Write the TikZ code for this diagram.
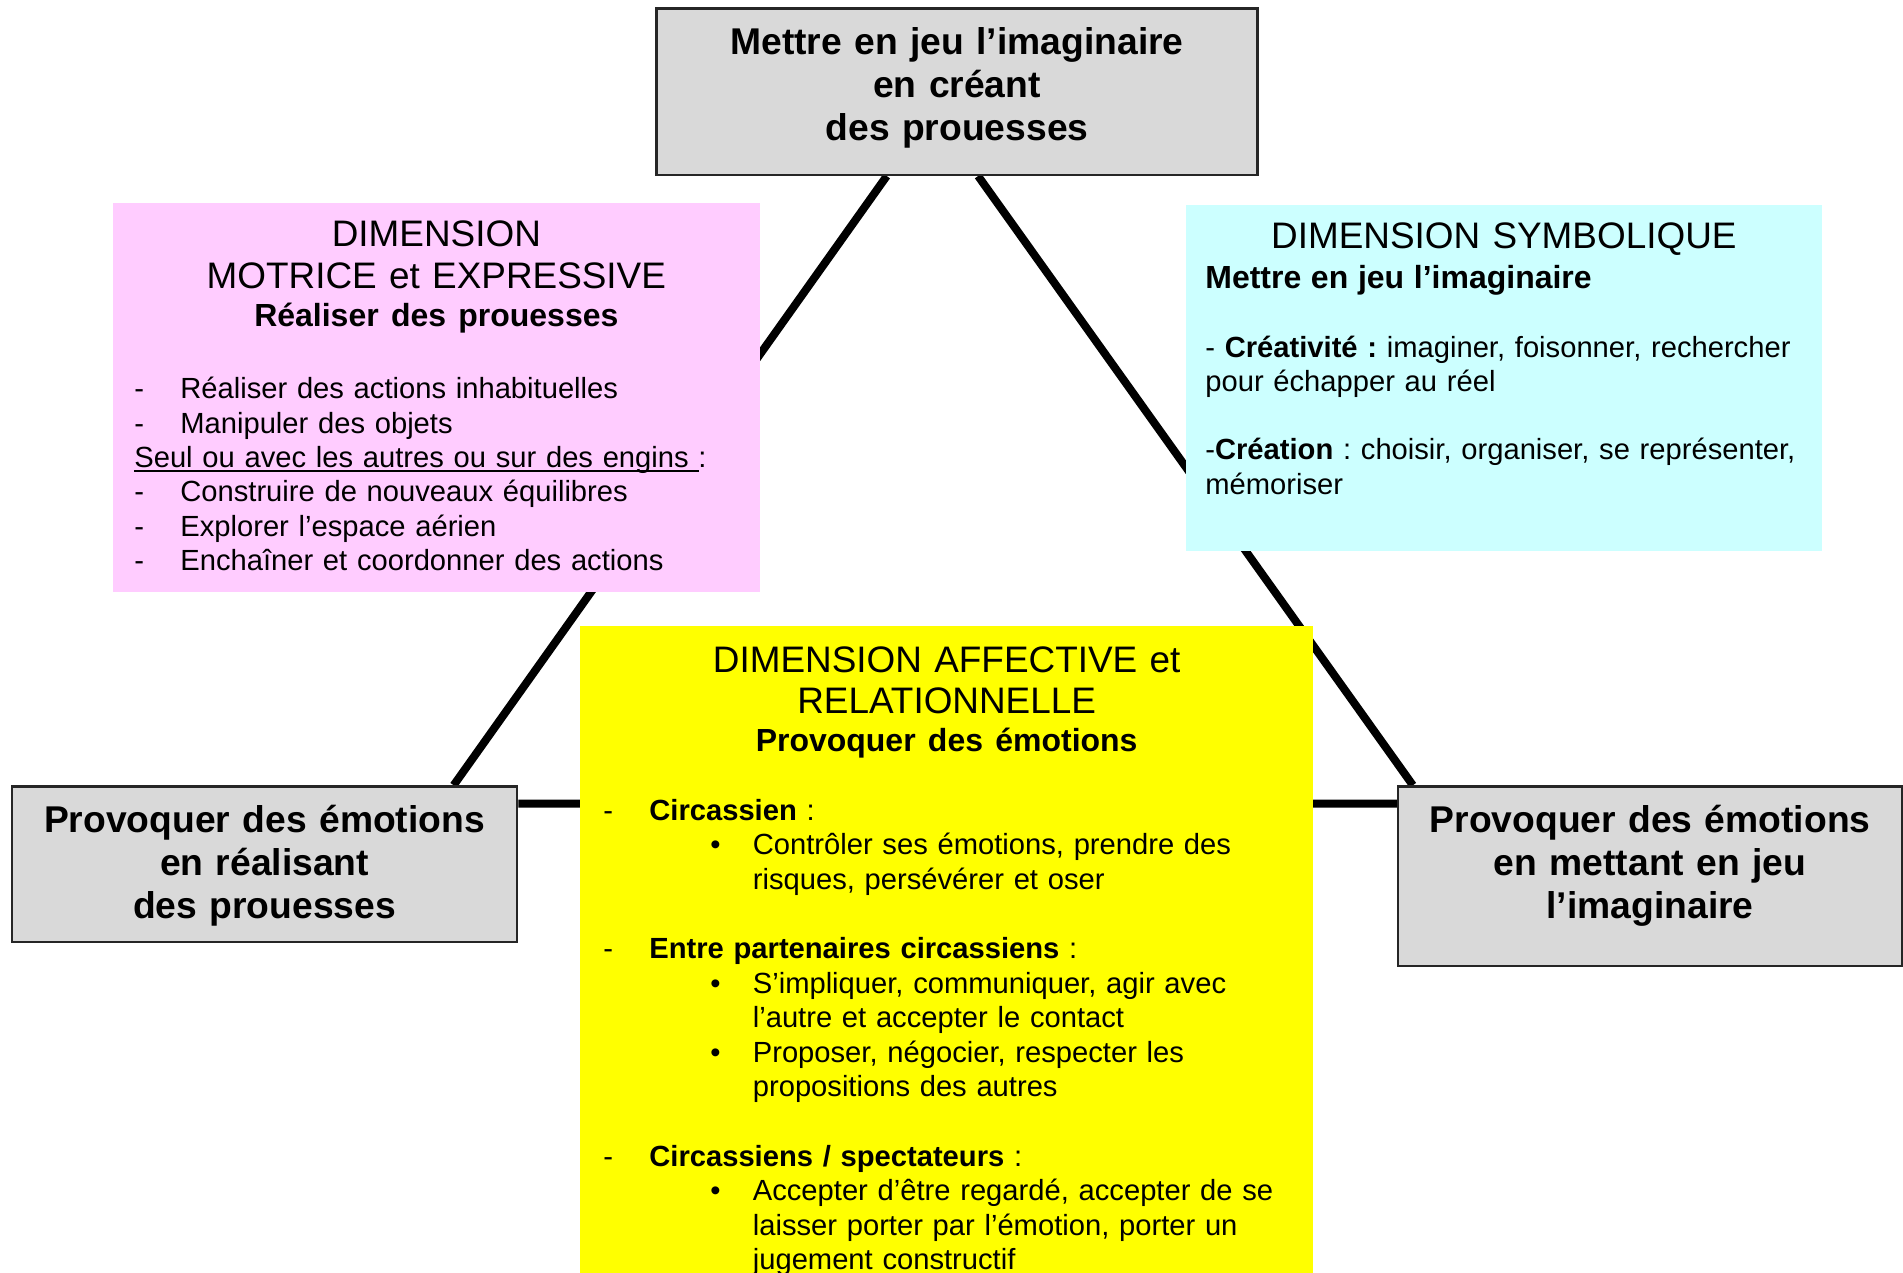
\documentclass[tikz,border=0pt]{standalone}
\usepackage{fontspec}
\setmainfont{Liberation Sans}
\usetikzlibrary{calc}
\pgfdeclarelayer{background}
\pgfsetlayers{background,main}
\frenchspacing
\newlength{\px}
\setlength{\px}{0.02cm}
\newlength{\ulinewidth}
\definecolor{goal_gray}{RGB}{217,217,217}
\definecolor{motor_pink}{RGB}{255,204,255}
\definecolor{symbol_cyan}{RGB}{204,255,255}
\definecolor{affect_yellow}{RGB}{255,255,0}
\newcommand{\dimsub}[1]{{\bfseries\fontsize{18.2}{19.5}\selectfont #1}}
\newcommand{\listdash}{\makebox[46\px][l]{-}}
\newcommand{\listbullet}{\hspace*{107\px}\makebox[42.5\px][l]{\textbullet}}
\newcommand{\listcont}{\hspace*{149.5\px}}
\newcommand{\ulinetext}[1]{\leavevmode\settowidth{\ulinewidth}{#1}\rlap{\rule[-2.4pt]{\ulinewidth}{0.9pt}}#1}
\tikzset{
    goal_box/.style={
        draw=black!85,
        fill=goal_gray,
        line width=2.5\px,
        inner sep=0pt
    },
    goal_text/.style={
        font=\bfseries\fontsize{21.2}{24.5}\selectfont,
        align=center,
        text width=490\px,
        inner sep=0pt,
        anchor=base
    },
    dim_box/.style={
        draw=none,
        inner sep=0pt
    },
    dim_head/.style={
        font=\fontsize{21}{23.4}\selectfont,
        align=center,
        text width=#1,
        inner sep=0pt,
        anchor=base
    },
    dim_body/.style={
        font=\fontsize{16.6}{19.5}\selectfont,
        align=left,
        text width=#1,
        inner sep=0pt,
        anchor=base west
    },
    link_line/.style={
        line width=8\px,
        draw=black
    }
}
\begin{document}
\begin{tikzpicture}[x=0.02cm, y=-0.02cm]
\useasboundingbox (0,0) rectangle (1903,1273);

% Goal boxes
\node[goal_box, minimum width=600.8\px, minimum height=166.3\px] (topgoal) at (957,91.65) {};
\node[goal_text] (topgoaltext) at (957,54.2) {Mettre en jeu l’imaginaire\\en créant\\des prouesses};

\node[goal_box, minimum width=504.9\px, minimum height=155.3\px] (leftgoal) at (264.55,864.15) {};
\node[goal_text] (leftgoaltext) at (264.55,832.5) {Provoquer des émotions\\en réalisant\\des prouesses};

\node[goal_box, minimum width=503.8\px, minimum height=179.6\px] (rightgoal) at (1650.1,876.3) {};
\node[goal_text] (rightgoaltext) at (1650.1,832.5) {Provoquer des émotions\\en mettant en jeu\\l’imaginaire};

% Motor dimension
\node[dim_box, fill=motor_pink, minimum width=646.9\px, minimum height=389.6\px] (motor) at (436.35,397.5) {};
\node[dim_head=640\px] (motorhead) at (436.35,247) {DIMENSION\\MOTRICE et EXPRESSIVE\\[-1.7pt]\dimsub{Réaliser des prouesses}};
\node[dim_body=620\px] (motorbody) at (134,399) {
    \listdash Réaliser des actions inhabituelles\\
    \listdash Manipuler des objets\\
    \ulinetext{Seul ou avec les autres ou sur des engins }:\\
    \listdash Construire de nouveaux équilibres\\
    \listdash Explorer l’espace aérien\\
    \listdash Enchaîner et coordonner des actions
};

% Symbolic dimension
\node[dim_box, fill=symbol_cyan, minimum width=636\px, minimum height=345.9\px] (symbol) at (1503.8,378.05) {};
\node[dim_head=630\px] (symbolhead) at (1503.8,249) {DIMENSION SYMBOLIQUE};
\node[dim_body=610\px] (symbolbody) at (1205,288.5) {
    \dimsub{Mettre en jeu l’imaginaire}\\[19.5pt]
    - \textbf{Créativité :} imaginer, foisonner, rechercher\\
    pour échapper au réel\\[19.5pt]
    -\textbf{Création} : choisir, organiser, se représenter,\\
    mémoriser
};

% Affective dimension
\node[dim_box, fill=affect_yellow, minimum width=733.1\px, minimum height=663.7\px] (affect) at (946.65,958.15) {};
\node[dim_head=720\px] (affecthead) at (946.65,672) {DIMENSION AFFECTIVE et\\RELATIONNELLE\\[-1.7pt]\dimsub{Provoquer des émotions}};
\node[dim_body=700\px, font=\fontsize{16.6}{19.7}\selectfont] (affectbody) at (603,820) {
    \listdash\textbf{Circassien} :\\
    \listbullet Contrôler ses émotions, prendre des\\
    \listcont risques, persévérer et oser\\[19.7pt]
    \listdash\textbf{Entre partenaires circassiens} :\\
    \listbullet S’impliquer, communiquer, agir avec\\
    \listcont l’autre et accepter le contact\\
    \listbullet Proposer, négocier, respecter les\\
    \listcont propositions des autres\\[19.7pt]
    \listdash\textbf{Circassiens / spectateurs} :\\
    \listbullet Accepter d’être regardé, accepter de se\\
    \listcont laisser porter par l’émotion, porter un\\
    \listcont jugement constructif
};

% Triangle links
\begin{pgfonlayer}{background}
\draw[link_line] ($(topgoal.south west)!0.3835!(topgoal.south east)$) -- ($(leftgoal.north west)!0.8727!(leftgoal.north east)$);
\draw[link_line] ($(topgoal.south west)!0.535!(topgoal.south east)$) -- ($(rightgoal.north west)!0.0314!(rightgoal.north east)$);
\draw[link_line] ($(leftgoal.north east)!0.117!(leftgoal.south east)$) -- ($(rightgoal.north west)!0.101!(rightgoal.south west)$);
\end{pgfonlayer}

\end{tikzpicture}
\end{document}
